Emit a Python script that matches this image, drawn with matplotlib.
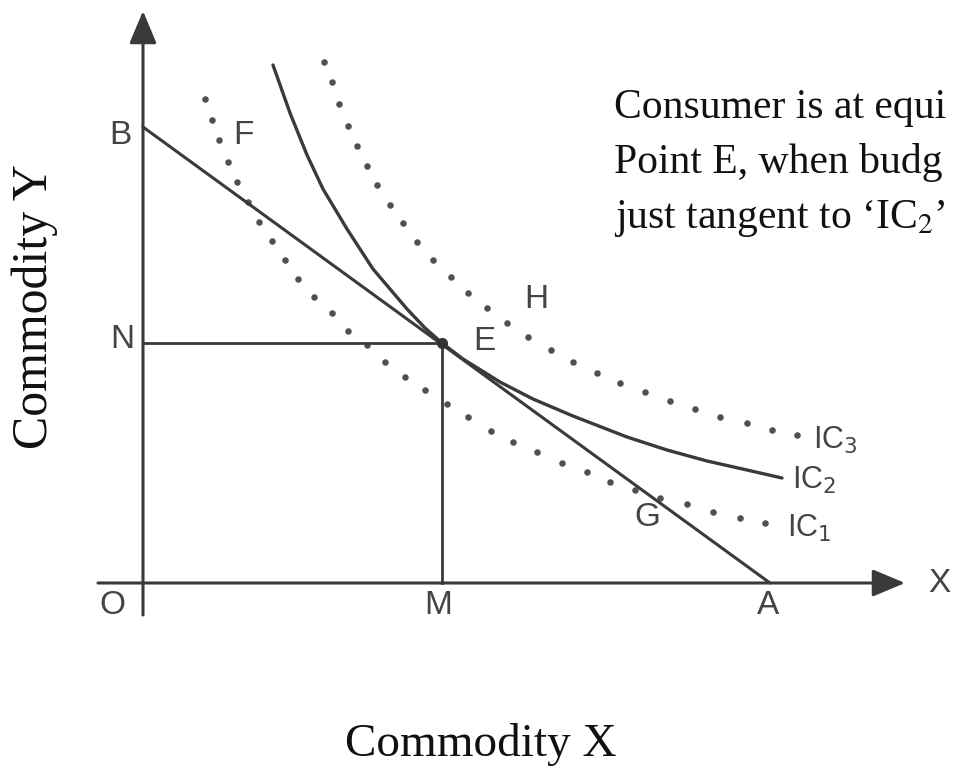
import matplotlib.pyplot as plt

# offsets from the origin O, x to the right and y upwards
budget_x = [0, 627]
budget_y = [456, 0]
eq_x, eq_y = 299, 240

# IC2, the solid indifference curve touching the budget line at E
ic2_x = [130, 147, 164, 180, 204, 230, 264, 282, 299, 320, 357, 390, 430, 484, 524, 564, 604, 639]
ic2_y = [518, 470, 428, 394, 354, 314, 274, 255, 240, 224, 201, 184, 167, 146, 133, 122, 113, 105]

# IC1, dotted curve through F and G
ic1_x = [62, 69, 76, 85, 94, 105, 116, 129, 142, 155, 171, 189, 205, 224, 242, 262, 282, 304,
         325, 348, 370, 394, 419, 444, 467, 492, 517, 544, 570, 597, 622]
ic1_y = [484, 463, 443, 421, 401, 381, 361, 342, 323, 304, 286, 270, 252, 238, 221, 206, 193, 179,
         166, 152, 141, 131, 120, 111, 101, 93, 85, 79, 71, 65, 60]

# IC3, dotted curve through H
ic3_x = [181, 189, 196, 205, 214, 224, 234, 247, 260, 274, 290, 308, 325, 344, 364, 385, 408,
         430, 454, 477, 502, 527, 552, 577, 604, 629, 654]
ic3_y = [521, 501, 479, 457, 437, 417, 398, 378, 360, 341, 323, 306, 290, 275, 260, 246, 233,
         221, 210, 200, 191, 182, 174, 166, 160, 153, 148]

note_lines = ['Consumer is at equi',
              'Point E, when budg',
              'just tangent to \u2018IC$_2$\u2019']

LINE = '#3a3a3a'
LETTER = '#444444'

fig = plt.figure(figsize=(9.54, 7.74), dpi=100)
ax = fig.add_axes([0, 0, 1, 1])
ax.set_xlim(-143, 811)
ax.set_ylim(-191, 583)
ax.axis('off')

# axes with arrow heads
arrow = dict(arrowstyle='-|>,head_length=1.0,head_width=0.42', mutation_scale=20,
             lw=2.2, color=LINE, shrinkA=0, shrinkB=0)
ax.annotate('', xy=(762, 0), xytext=(-45, 0), arrowprops=arrow)
ax.annotate('', xy=(0, 572), xytext=(0, -32), arrowprops=arrow)

# budget line AB and the guide lines from E
ax.plot(budget_x, budget_y, color=LINE, lw=2.2, solid_capstyle='round')
ax.plot([0, eq_x], [eq_y, eq_y], color=LINE, lw=2.0)
ax.plot([eq_x, eq_x], [eq_y, 0], color=LINE, lw=2.0)

ax.plot(ic2_x, ic2_y, color=LINE, lw=2.4, solid_capstyle='round', solid_joinstyle='round')
ax.scatter(ic1_x, ic1_y, s=22, color='#505050', linewidths=0)
ax.scatter(ic3_x, ic3_y, s=22, color='#505050', linewidths=0)
ax.plot([eq_x], [eq_y], 'o', ms=7, color='#333333')

letters = [('B', -23, 448), ('F', 100, 447), ('N', -21, 243), ('E', 341, 241),
           ('H', 393, 283), ('G', 504, 66), ('O', -31, -22), ('M', 295, -23),
           ('A', 625, -22), ('X', 796, 0)]
for s, x, y in letters:
    ax.text(x, y, s, fontsize=24, family='Liberation Sans', color=LETTER,
            ha='center', va='center')

for s, x, y in [('IC$_3$', 670, 143), ('IC$_2$', 649, 103), ('IC$_1$', 644, 55)]:
    ax.text(x, y, s, fontsize=22, family='Liberation Sans', color=LETTER,
            ha='left', va='center', math_fontfamily='dejavusans')

for i, s in enumerate(note_lines):
    ax.text(471, 465 - 55 * i, s, fontsize=30, family='Liberation Serif',
            color='#111111', va='baseline', ha='left', math_fontfamily='stix')

ax.text(-108, 276, 'Commodity Y', fontsize=36, family='Liberation Serif',
        color='#111111', rotation=90, ha='center', va='center')
ax.text(338, -162, 'Commodity X', fontsize=34, family='Liberation Serif',
        color='#111111', ha='center', va='center')

fig.savefig('out.png', dpi=100)
